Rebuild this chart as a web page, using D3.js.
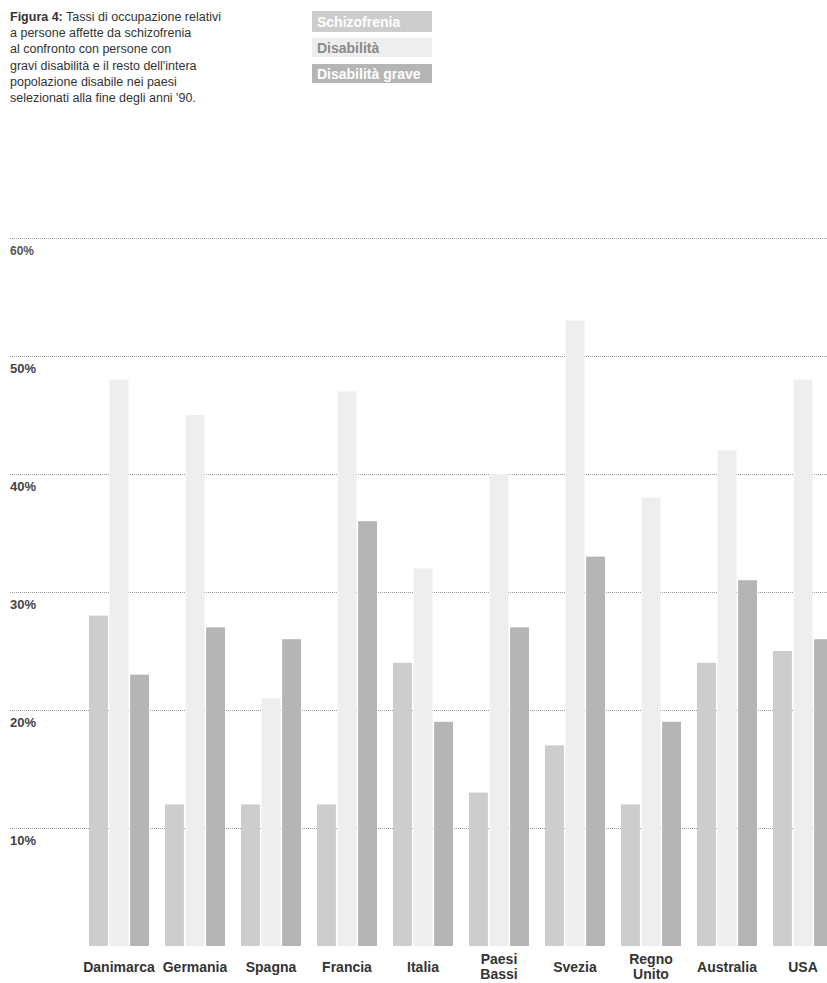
<!DOCTYPE html>
<head>
    <meta charset="utf-8">
    <script src="https://d3js.org/d3.v7.min.js"></script>
    <style>
        body { margin: 0; background: #fff; }
        text { font-family: Arial, "Liberation Sans", sans-serif; }
    </style>
</head>

<div id="my_dataviz"></div>

<script>
// categories and values (employment rate, %)
var countries = ["Danimarca", "Germania", "Spagna", "Francia", "Italia",
                 "Paesi Bassi", "Svezia", "Regno Unito", "Australia", "USA"];
var series = ["Schizofrenia", "Disabilità", "Disabilità grave"];
var schizofrenia   = [28, 12, 12, 12, 24, 13, 17, 12, 24, 25];
var disabilita     = [48, 45, 21, 47, 32, 40, 53, 38, 42, 48];
var disabilitaGrave = [23, 27, 26, 36, 19, 27, 33, 19, 31, 26];
var yTicks = [10, 20, 30, 40, 50, 60];
var titleLines = [
    "a persone affette da schizofrenia",
    "al confronto con persone con",
    "gravi disabilità e il resto dell'intera",
    "popolazione disabile nei paesi",
    "selezionati alla fine degli anni '90."
];

var width = 827, height = 983;

var svg = d3.select("#my_dataviz")
    .append("svg")
    .attr("width", width)
    .attr("height", height);

// Title block
var title = svg.append("text")
    .attr("x", 10)
    .attr("y", 21)
    .attr("font-size", 12.5)
    .attr("fill", "#333");
title.append("tspan").attr("font-weight", "bold").text("Figura 4:");
title.append("tspan").text(" Tassi di occupazione relativi");
titleLines.forEach(function(l, i) {
    svg.append("text")
        .attr("x", 10)
        .attr("y", 21 + (i + 1) * 16.2)
        .attr("font-size", 12.5)
        .attr("fill", "#333")
        .text(l);
});

// colours
var color = d3.scaleOrdinal()
    .domain(series)
    .range(["#cdcdcd", "#eeeeee", "#b5b5b5"]);
var legendText = d3.scaleOrdinal()
    .domain(series)
    .range(["#fff", "#8a8a8a", "#fff"]);

// Legend
var legendY = d3.scaleOrdinal().domain(series).range([11, 38, 64]);
var legendH = d3.scaleOrdinal().domain(series).range([21, 19, 19]);
var legend = svg.selectAll("legend")
    .data(series)
    .enter()
    .append("g");
legend.append("rect")
    .attr("x", 312)
    .attr("y", function(d) { return legendY(d) })
    .attr("width", 120)
    .attr("height", function(d) { return legendH(d) })
    .attr("fill", function(d) { return color(d) });
legend.append("text")
    .attr("x", 317)
    .attr("y", function(d) { return legendY(d) + legendH(d) / 2 + 5 })
    .attr("font-size", 14)
    .attr("font-weight", "bold")
    .attr("fill", function(d) { return legendText(d) })
    .text(function(d) { return d });

// Scales
var x = d3.scaleBand()
    .domain(countries)
    .range([89, 833])
    .paddingInner(0.21)
    .paddingOuter(0);

var xSub = d3.scaleBand()
    .domain(series)
    .range([0, x.bandwidth()])
    .paddingInner(0.08);

var y = d3.scaleLinear()
    .domain([0, 60])
    .range([946, 238]);

// Grid lines
svg.selectAll("grid")
    .data(yTicks)
    .enter()
    .append("line")
    .attr("x1", 10)
    .attr("x2", width)
    .attr("y1", function(d) { return y(d) + 0.5 })
    .attr("y2", function(d) { return y(d) + 0.5 })
    .attr("stroke", "#9a9a9a")
    .attr("stroke-width", 1)
    .attr("stroke-dasharray", "1,1");

// Y labels
svg.selectAll("ylabels")
    .data(yTicks)
    .enter()
    .append("text")
    .attr("x", 10)
    .attr("y", function(d) { return y(d) + 17 })
    .attr("font-size", function(d) { return d === 60 ? 12 : 13 })
    .attr("font-weight", "bold")
    .attr("font-family", function(d) { return d === 60 ? "'Liberation Serif', serif" : null })
    .attr("fill", function(d) { return d === 60 ? "#555" : "#444" })
    .text(function(d) { return d + "%" });

// Bars
var rows = countries.map(function(c, i) {
    return { country: c, values: [
        { key: series[0], value: schizofrenia[i] },
        { key: series[1], value: disabilita[i] },
        { key: series[2], value: disabilitaGrave[i] }
    ]};
});

svg.selectAll("groups")
    .data(rows)
    .enter()
    .append("g")
    .attr("transform", function(d) { return "translate(" + x(d.country) + ",0)" })
    .selectAll("rect")
    .data(function(d) { return d.values })
    .enter()
    .append("rect")
    .attr("x", function(d) { return xSub(d.key) })
    .attr("y", function(d) { return y(d.value) })
    .attr("width", xSub.bandwidth())
    .attr("height", function(d) { return y(0) - y(d.value) })
    .attr("fill", function(d) { return color(d.key) });

// Country labels, two-word names wrap onto two lines
var labels = svg.selectAll("xlabels")
    .data(countries)
    .enter()
    .append("text")
    .attr("text-anchor", "middle")
    .attr("font-size", 14)
    .attr("font-weight", "bold")
    .attr("fill", "#333");
labels.each(function(d) {
    var parts = d.split(" ");
    var cx = x(d) + x.bandwidth() / 2;
    var t = d3.select(this);
    if (parts.length === 1) {
        t.append("tspan").attr("x", cx).attr("y", 972).text(d);
    } else {
        t.append("tspan").attr("x", cx).attr("y", 964).text(parts[0]);
        t.append("tspan").attr("x", cx).attr("y", 979).text(parts[1]);
    }
});
</script>
